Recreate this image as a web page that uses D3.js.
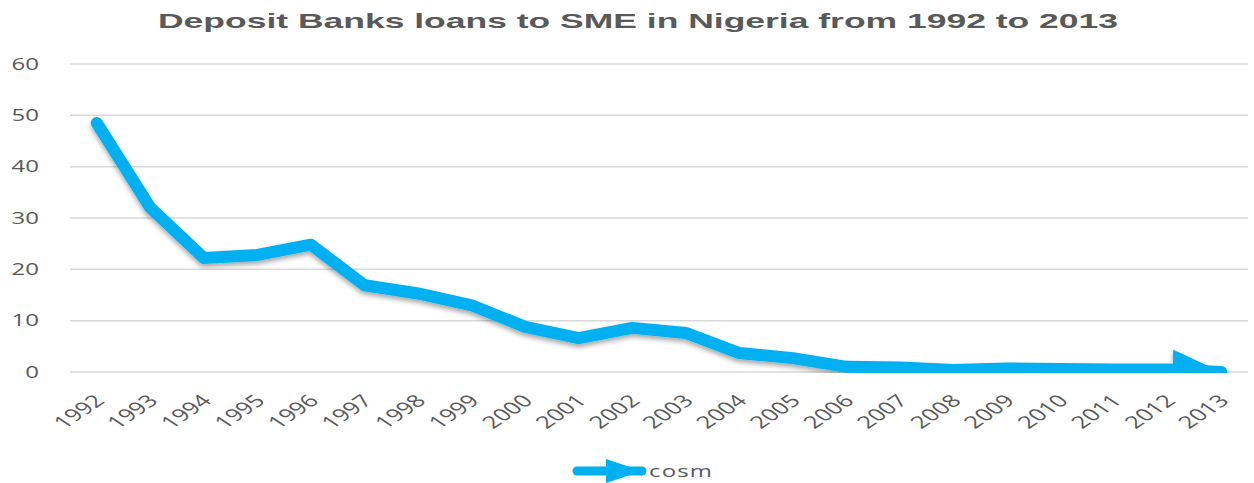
<!DOCTYPE html>
<html>
<head>
    <title>Deposit Banks loans to SME</title>
    <script src="https://d3js.org/d3.v7.min.js"></script>
    <style>
        body { margin: 0; background: #fff; }
        .axis text { font: 16px "Open Sans", sans-serif; fill: #595959; }
        .xaxis text { font-size: 17px; }
        .grid line { stroke: #d9d9d9; stroke-width: 1.5; }
        .title { font: bold 21px "Liberation Sans", Arial, sans-serif; fill: #595959; }
    </style>
</head>
<body>
    <svg id="chart"></svg>

    <script>
        var years = ["1992", "1993", "1994", "1995", "1996", "1997", "1998", "1999", "2000", "2001", "2002",
                     "2003", "2004", "2005", "2006", "2007", "2008", "2009", "2010", "2011", "2012", "2013"];
        var cosm = [48.5, 32, 22.2, 22.8, 24.8, 16.9, 15.3, 13, 8.8, 6.6, 8.6,
                    7.6, 3.7, 2.7, 1.0, 0.9, 0.4, 0.7, 0.6, 0.5, 0.5, 0];
        var yTicks = [0, 10, 20, 30, 40, 50, 60];

        var W = 1254, H = 483;
        var margin = {top: 64, right: 6, bottom: 111, left: 70},
            width = W - margin.left - margin.right,
            height = H - margin.top - margin.bottom;
        var stretch = 1.5; // the picture is wide: glyphs are drawn stretched sideways

        var svg = d3.select("#chart").attr("width", W).attr("height", H);

        var defs = svg.append("defs");
        var shadow = defs.append("filter").attr("id", "shadow")
            .attr("x", "-5%").attr("y", "-20%").attr("width", "110%").attr("height", "150%");
        shadow.append("feDropShadow").attr("dx", 0).attr("dy", 3).attr("stdDeviation", 2.5)
            .attr("flood-color", "#000").attr("flood-opacity", 0.35);

        defs.append("marker").attr("id", "arrow")
            .attr("markerUnits", "userSpaceOnUse")
            .attr("markerWidth", 52).attr("markerHeight", 44)
            .attr("refX", 49).attr("refY", 20)
            .attr("orient", "auto")
            .append("path").attr("d", "M0,0 L49,20 L0,40 Z").attr("fill", "#00b0f0");

        defs.append("marker").attr("id", "legarrow")
            .attr("markerUnits", "userSpaceOnUse")
            .attr("markerWidth", 40).attr("markerHeight", 30)
            .attr("refX", 36).attr("refY", 12)
            .attr("orient", "auto")
            .append("path").attr("d", "M0,0 L36,12 L0,24 Z").attr("fill", "#00b0f0");

        defs.append("clipPath").attr("id", "plotclip")
            .append("rect").attr("x", -10).attr("y", -20).attr("width", width + 20).attr("height", height + 21);

        var g = svg.append("g").attr("transform", "translate(" + margin.left + "," + margin.top + ")");

        var x = d3.scaleBand().domain(years).range([0, width]);
        var y = d3.scaleLinear().domain([0, 60]).range([height, 0]);

        // gridlines
        g.append("g").attr("class", "grid")
            .selectAll("line").data(yTicks).enter().append("line")
            .attr("x1", 0).attr("x2", width)
            .attr("y1", function(d) { return y(d); })
            .attr("y2", function(d) { return y(d); });

        // y axis labels
        var yAxis = d3.axisLeft(y).tickValues(yTicks).tickSize(0).tickPadding(0);
        g.append("g").attr("class", "axis").call(yAxis)
            .call(function(s) { s.select(".domain").remove(); })
            .selectAll("text")
            .attr("x", 0)
            .attr("transform", "translate(-31,0) scale(" + stretch + ",1)");

        // x axis labels, rotated then stretched
        var xAxis = d3.axisBottom(x).tickSize(0).tickPadding(0);
        g.append("g").attr("class", "axis xaxis")
            .attr("transform", "translate(0," + height + ")")
            .call(xAxis)
            .call(function(s) { s.select(".domain").remove(); })
            .selectAll("text")
            .style("text-anchor", "end")
            .attr("y", 0)
            .attr("dy", 0)
            .attr("transform", "translate(9,30) scale(" + stretch + ",1) rotate(-45)");

        var line = d3.line()
            .x(function(d, i) { return x(years[i]) + x.bandwidth() / 2; })
            .y(function(d) { return y(d); });

        g.append("g").attr("clip-path", "url(#plotclip)")
            .append("path")
            .datum(cosm)
            .attr("d", line)
            .attr("fill", "none")
            .attr("stroke", "#00b0f0")
            .attr("stroke-width", 12)
            .attr("stroke-linejoin", "round")
            .attr("stroke-linecap", "round")
            .attr("marker-end", "url(#arrow)")
            .attr("filter", "url(#shadow)");

        // title
        svg.append("text").attr("class", "title")
            .attr("x", 158).attr("y", 28)
            .attr("textLength", 960).attr("lengthAdjust", "spacingAndGlyphs")
            .text("Deposit Banks loans to SME in Nigeria from 1992 to 2013");

        // legend
        var lg = svg.append("g").attr("transform", "translate(570,471)");
        lg.append("line").attr("x1", 7).attr("x2", 72).attr("y1", 0).attr("y2", 0)
            .attr("stroke", "#00b0f0").attr("stroke-width", 9).attr("stroke-linecap", "round")
            .attr("marker-end", "url(#legarrow)");
        lg.append("text").attr("x", 0).attr("y", 6)
            .attr("transform", "translate(79,0) scale(" + stretch + ",1)")
            .attr("textLength", 42)
            .style("font", "16px 'Open Sans', sans-serif").style("fill", "#595959")
            .text("cosm");
    </script>
</body>
</html>
